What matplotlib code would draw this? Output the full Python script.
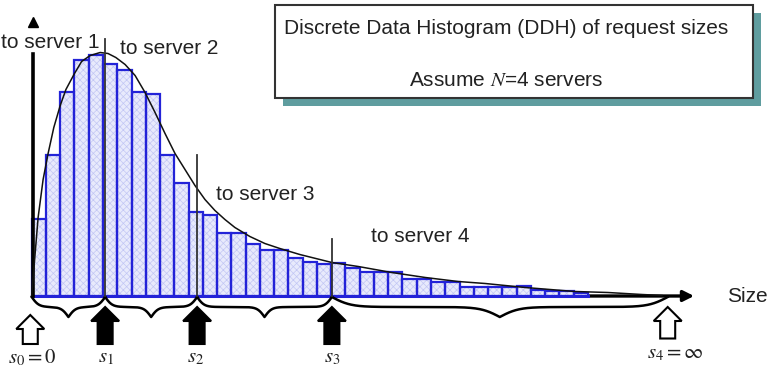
import matplotlib
matplotlib.use('Agg')
import matplotlib.pyplot as plt
from matplotlib.patches import Rectangle, Polygon
import numpy as np

plt.rcParams['font.family'] = ['Liberation Sans', 'DejaVu Sans']
plt.rcParams['mathtext.fontset'] = 'stix'
plt.rcParams['hatch.linewidth'] = 0.5

# histogram counts (one per size bin)
counts = [77, 141, 204, 236, 241, 232, 226, 204, 202, 141, 113, 84, 81, 63, 63, 52,
          46, 46, 38, 34, 32, 33, 28, 24, 24, 24, 17, 17, 14, 14, 9, 9, 9, 9, 10, 6, 5, 5, 3]

# fitted density curve
curve_x = [0, 0.2, 0.45, 0.8, 1.15, 1.55, 2.0, 2.4, 3.0, 3.5, 4.1, 4.8, 5.35, 5.9, 6.55,
           7.25, 7.95, 8.65, 9.35, 10.05, 10.75, 11.45, 12.15, 12.85, 13.55, 14.25, 15.3,
           16.35, 17.4, 18.8, 21.05, 22.9, 25.25, 27.6, 29.9, 31.8, 34.6, 38.1, 40.4, 42.8, 44.2]
curve_y = [0, 35, 78, 116, 142, 168, 190, 206, 222, 234, 240, 243, 242, 238, 231, 220, 203,
           183, 162, 142, 126, 110, 96, 85, 76, 68, 59, 52, 47, 41, 33, 29, 23, 18, 14, 12,
           8, 4, 3, 1, 0]

# split points s0..s4 and the height of the divider lines at s1..s3
splits = [0, 5.15, 11.6, 21.05, 44.6]
split_tops = [257, 141, 57]
split_labels = [r'$s_0 = 0$', r'$s_1$', r'$s_2$', r'$s_3$', r'$s_4 = \infty$']
hollow = [True, False, False, False, True]
server_labels = ['to server 1', 'to server 2', 'to server 3', 'to server 4']
box_lines = ['Discrete Data Histogram (DDH) of request sizes', r'Assume $N$=4 servers']

XS = 14.26  # pixels per size unit
fig = plt.figure(figsize=(7.81, 3.81), dpi=100)
ax = fig.add_axes([0, 0, 1, 1])
ax.set_xlim(-31.7 / XS, (781 - 31.7) / XS)
ax.set_ylim(-85.5, 295.5)
ax.axis('off')

blue = '#2323d8'
bins = np.arange(len(counts))
ax.bar(bins, counts, width=1, align='edge', color='#e8eafc', hatch='xxxxx',
       edgecolor='#c2c6f4', linewidth=0, zorder=2)
ax.bar(bins, counts, width=1, align='edge', fill=False, edgecolor=blue,
       linewidth=1.6, zorder=3)

# axes
ax.annotate('', xy=(46.45, -0.5), xytext=(0.05, -0.5),
            arrowprops=dict(arrowstyle='-|>', color='k', lw=2.4, mutation_scale=16,
                            shrinkA=0, shrinkB=0), zorder=1)
ax.plot([0, len(counts)], [0, 0], color=blue, lw=2.2, zorder=4)
ax.plot([0.09, 0.09], [0, 242], color='k', lw=2.6, zorder=5)
ax.plot([0.09], [274], marker='^', color='k', markersize=7, zorder=5)
ax.text(50.2, -0.5, 'Size', fontsize=15, ha='center', va='center', color='#222')

ax.plot(curve_x, curve_y, color='#111', lw=1.1, zorder=6)

for s, top in zip(splits[1:4], split_tops):
    ax.plot([s, s], [0, top], color='#333', lw=1.3, zorder=7)

# server labels
lab_pos = [(-2.15, 252.5), (6.19, 247.5), (12.93, 100.5), (23.8, 58.5)]
for (lx, ly), t in zip(lab_pos, server_labels):
    ax.text(lx, ly, t, fontsize=15, ha='left', va='center', color='#222', zorder=8)


# curly braces between split points
def brace(x0, x1, y0, h, beta=5.0):
    n = 401
    x = np.linspace(x0, x1, n)
    xh = x[:n // 2 + 1]
    yh = 1 / (1 + np.exp(-beta * (xh - xh[0]))) + 1 / (1 + np.exp(-beta * (xh - xh[-1])))
    y = np.concatenate((yh, yh[-2::-1]))
    ax.plot(x, y0 - h * (y - 0.5), color='k', lw=1.8, zorder=5)


for a, b in zip(splits[:-1], splits[1:]):
    brace(a, b, -1.5, 20, beta=4.0 if b - a < 15 else 1.5)


# block arrows under the split points
def block_arrow(xc, tip, base, bottom, fill):
    hw, sw = 14 / XS, 7.5 / XS
    pts = [(xc, tip), (xc + hw, base), (xc + sw, base), (xc + sw, bottom),
           (xc - sw, bottom), (xc - sw, base), (xc - hw, base)]
    ax.add_patch(Polygon(pts, closed=True, facecolor='white' if fill else 'black',
                         edgecolor='black', lw=1.5, zorder=6))


tips = [-19.5, -11.5, -11.5, -11.5, -11.5]
for s, tp, hol in zip(splits, tips, hollow):
    xc = s - 0.1 if s == 0 else s
    block_arrow(xc, tp, tp - 14, -48.5 if not hol or s == 0 else -43, hol)

lab_x = [0.03, 5.2, 11.5, 21.1, 45.1]
lab_y = [-62, -62, -62, -62, -58]
for x, y, t in zip(lab_x, lab_y, split_labels):
    ax.text(x, y, t, fontsize=15, ha='center', va='center', color='#222')

# title box with shadow
bx0, bx1 = (275 - 31.7) / XS, (753 - 31.7) / XS
by0, by1 = 197.5, 290.5
ax.add_patch(Rectangle((bx0 + 8 / XS, by0 - 8), bx1 - bx0, by1 - by0,
                       facecolor='#5f9d9f', edgecolor='none', zorder=8))
ax.add_patch(Rectangle((bx0, by0), bx1 - bx0, by1 - by0, facecolor='white',
                       edgecolor='#333', lw=1.5, zorder=9))
bxc = (506 - 31.7) / XS
ax.text(bxc, 266.5, box_lines[0], fontsize=15, ha='center', va='center', color='#222', zorder=10)
ax.text(bxc, 214.5, box_lines[1], fontsize=15, ha='center', va='center', color='#222', zorder=10)

fig.savefig('out.png', dpi=100)
